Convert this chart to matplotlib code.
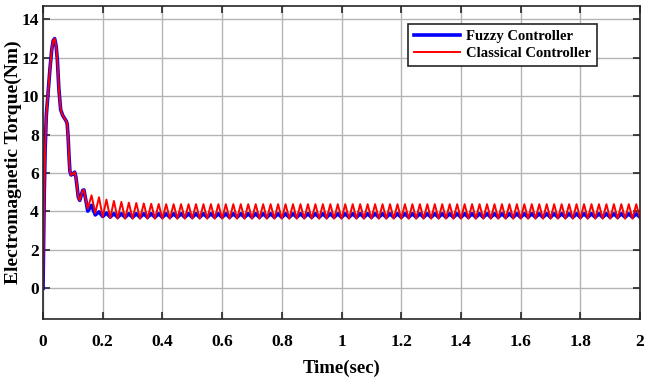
import numpy as np
import matplotlib
matplotlib.use("Agg")
import matplotlib.pyplot as plt

# ---------------- data ----------------
# start-up transient (shared by both controllers)
t_transient = [0.0, 0.002, 0.004, 0.007, 0.011, 0.017, 0.023, 0.029, 0.034, 0.039,
               0.044, 0.048, 0.053, 0.059, 0.066, 0.072, 0.078, 0.081, 0.084, 0.087,
               0.090, 0.094, 0.100, 0.106, 0.110, 0.114, 0.118, 0.123, 0.128, 0.133,
               0.137, 0.141, 0.145]
y_transient = [0.0, 2.5, 4.8, 7.2, 9.0, 10.2, 11.4, 12.4, 12.9, 13.0,
               12.6, 11.9, 10.4, 9.3, 9.0, 8.85, 8.7, 8.55, 7.9, 6.9,
               6.1, 5.9, 5.95, 6.05, 5.8, 5.3, 4.75, 4.58, 4.85, 5.1,
               5.12, 4.8, 4.45]
# value at t = 0.15 s
red_y_015 = 4.15
blue_y_015 = 4.02

# oscillation: period read as 0.025 s, first peak after the transient at 0.1625 s
ripple_period = 0.025
first_peak_t = 0.1625
n_cycles = 74

red_peaks = [4.84, 4.74, 4.62, 4.55, 4.50, 4.46, 4.44, 4.42, 4.40, 4.39,
             4.38, 4.38, 4.38, 4.38, 4.38, 4.38, 4.38, 4.38, 4.38, 4.38,
             4.38, 4.38, 4.38, 4.38, 4.38, 4.38, 4.38, 4.38, 4.38, 4.38,
             4.38, 4.38, 4.38, 4.38, 4.38, 4.38, 4.38, 4.38, 4.38, 4.38,
             4.38, 4.38, 4.38, 4.38, 4.38, 4.38, 4.38, 4.38, 4.38, 4.38,
             4.38, 4.38, 4.38, 4.38, 4.38, 4.38, 4.38, 4.38, 4.38, 4.38,
             4.38, 4.38, 4.38, 4.38, 4.38, 4.38, 4.38, 4.38, 4.38, 4.38,
             4.38, 4.38, 4.38, 4.38]
red_troughs = [3.92, 3.72, 3.65, 3.62, 3.62, 3.62, 3.62, 3.62, 3.62, 3.62,
               3.62, 3.62, 3.62, 3.62, 3.62, 3.62, 3.62, 3.62, 3.62, 3.62,
               3.62, 3.62, 3.62, 3.62, 3.62, 3.62, 3.62, 3.62, 3.62, 3.62,
               3.62, 3.62, 3.62, 3.62, 3.62, 3.62, 3.62, 3.62, 3.62, 3.62,
               3.62, 3.62, 3.62, 3.62, 3.62, 3.62, 3.62, 3.62, 3.62, 3.62,
               3.62, 3.62, 3.62, 3.62, 3.62, 3.62, 3.62, 3.62, 3.62, 3.62,
               3.62, 3.62, 3.62, 3.62, 3.62, 3.62, 3.62, 3.62, 3.62, 3.62,
               3.62, 3.62, 3.62, 3.62]
blue_peaks = [4.32, 3.98, 3.92, 3.89, 3.88, 3.88, 3.88, 3.88, 3.88, 3.88,
              3.88, 3.88, 3.88, 3.88, 3.88, 3.88, 3.88, 3.88, 3.88, 3.88,
              3.88, 3.88, 3.88, 3.88, 3.88, 3.88, 3.88, 3.88, 3.88, 3.88,
              3.88, 3.88, 3.88, 3.88, 3.88, 3.88, 3.88, 3.88, 3.88, 3.88,
              3.88, 3.88, 3.88, 3.88, 3.88, 3.88, 3.88, 3.88, 3.88, 3.88,
              3.88, 3.88, 3.88, 3.88, 3.88, 3.88, 3.88, 3.88, 3.88, 3.88,
              3.88, 3.88, 3.88, 3.88, 3.88, 3.88, 3.88, 3.88, 3.88, 3.88,
              3.88, 3.88, 3.88, 3.88]
blue_troughs = [3.82, 3.74, 3.71, 3.70, 3.70, 3.70, 3.70, 3.70, 3.70, 3.70,
                3.70, 3.70, 3.70, 3.70, 3.70, 3.70, 3.70, 3.70, 3.70, 3.70,
                3.70, 3.70, 3.70, 3.70, 3.70, 3.70, 3.70, 3.70, 3.70, 3.70,
                3.70, 3.70, 3.70, 3.70, 3.70, 3.70, 3.70, 3.70, 3.70, 3.70,
                3.70, 3.70, 3.70, 3.70, 3.70, 3.70, 3.70, 3.70, 3.70, 3.70,
                3.70, 3.70, 3.70, 3.70, 3.70, 3.70, 3.70, 3.70, 3.70, 3.70,
                3.70, 3.70, 3.70, 3.70, 3.70, 3.70, 3.70, 3.70, 3.70, 3.70,
                3.70, 3.70, 3.70, 3.70]

x_ticks = [0, 0.2, 0.4, 0.6, 0.8, 1, 1.2, 1.4, 1.6, 1.8, 2]
x_tick_labels = ["0", "0.2", "0.4", "0.6", "0.8", "1", "1.2", "1.4", "1.6", "1.8", "2"]
y_ticks = [0, 2, 4, 6, 8, 10, 12, 14]
series_names = ["Fuzzy Controller", "Classical Controller"]


def build(peaks, troughs, y015):
    t = list(t_transient) + [0.15]
    y = list(y_transient) + [y015]
    for k in range(n_cycles):
        tp = first_peak_t + k * ripple_period
        t += [tp, tp + ripple_period / 2]
        y += [peaks[k], troughs[k]]
    return np.array(t), np.array(y)


t_red, y_red = build(red_peaks, red_troughs, red_y_015)
t_blue, y_blue = build(blue_peaks, blue_troughs, blue_y_015)

# ---------------- plot ----------------
plt.rcParams['font.family'] = ['Liberation Serif', 'DejaVu Serif']
plt.rcParams['font.weight'] = 'bold'

fig = plt.figure(figsize=(6.5, 3.92), dpi=100)
ax = fig.add_axes([0.0662, 0.1862, 0.9184, 0.7985])

ax.plot(t_blue, y_blue, color='#0000ff', lw=2.6, label=series_names[0],
        solid_joinstyle='round')
ax.plot(t_red, y_red, color='#ff0000', lw=1.4, label=series_names[1],
        solid_joinstyle='round')

ax.set_xlim(0, 2)
ax.set_ylim(-1.6, 14.7)
ax.set_xticks(x_ticks)
ax.set_xticklabels(x_tick_labels)
ax.set_yticks(y_ticks)
ax.grid(True, color='#b4b4b4', lw=1.0)
ax.set_axisbelow(True)
ax.tick_params(direction='in', top=True, right=True, length=5, width=1.2,
               labelsize=12.5, colors='#262626')
ax.tick_params(axis='x', pad=11)
ax.tick_params(axis='y', pad=3)
for lab in ax.get_xticklabels() + ax.get_yticklabels():
    lab.set_fontweight('bold')
    lab.set_color('black')
for sp in ax.spines.values():
    sp.set_color('#262626')
    sp.set_linewidth(1.2)

ax.set_xlabel("Time(sec)", fontsize=13.5, fontweight='bold', labelpad=7)
ax.set_ylabel("Electromagnetic Torque(Nm)", fontsize=14, fontweight='bold')
ax.yaxis.set_label_coords(-0.036, 0.50)

leg = ax.legend(loc='upper right', bbox_to_anchor=(0.928, 0.9425),
                borderaxespad=0, fancybox=False, framealpha=1,
                edgecolor='#262626', fontsize=10.5, handlelength=3.2,
                handletextpad=0.4, labelspacing=0.25, borderpad=0.4)
leg.get_frame().set_linewidth(1.2)
for txt in leg.get_texts():
    txt.set_fontweight('bold')

fig.savefig("out.png", dpi=100)
